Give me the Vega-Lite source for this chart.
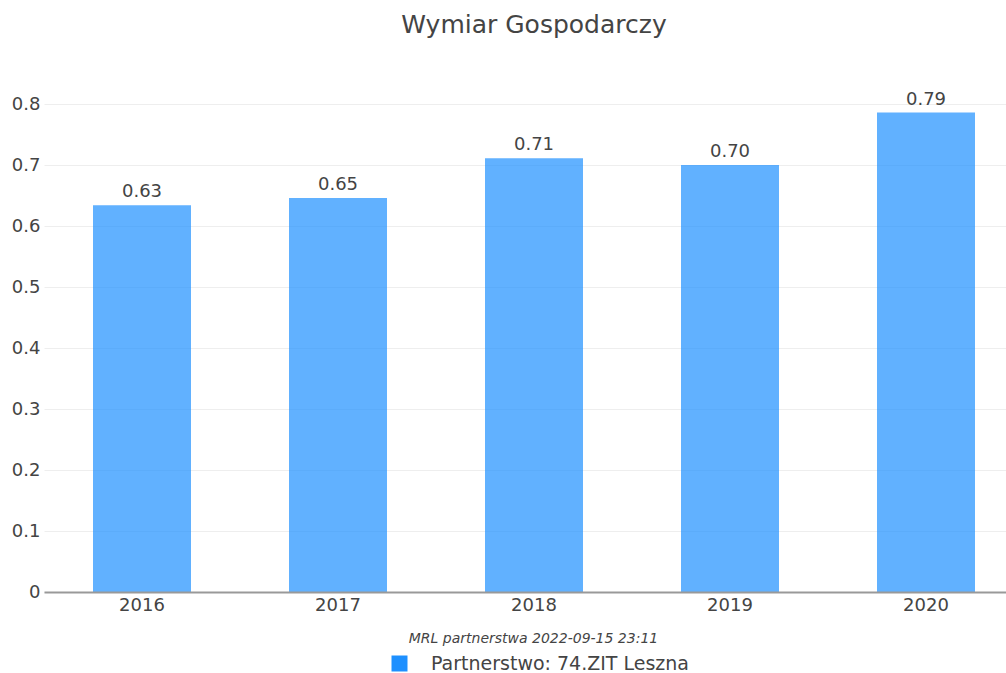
{
  "$schema": "https://vega.github.io/schema/vega-lite/v6.json",
  "autosize": {"type": "none"},
  "padding": {"left": 44, "top": 104, "right": 0, "bottom": 81},
  "width": 980,
  "height": 488,
  "title": {
    "text": "Wymiar Gospodarczy",
    "anchor": "middle",
    "offset": 53,
    "fontSize": 25,
    "font": "DejaVu Sans",
    "fontWeight": "normal",
    "color": "#444444",
    "frame": "group"
  },
  "data": {
    "values": [
      {"rok": "2016", "wartosc": 0.634, "seria": "Partnerstwo: 74.ZIT Leszna"},
      {"rok": "2017", "wartosc": 0.646, "seria": "Partnerstwo: 74.ZIT Leszna"},
      {"rok": "2018", "wartosc": 0.711, "seria": "Partnerstwo: 74.ZIT Leszna"},
      {"rok": "2019", "wartosc": 0.700, "seria": "Partnerstwo: 74.ZIT Leszna"},
      {"rok": "2020", "wartosc": 0.786, "seria": "Partnerstwo: 74.ZIT Leszna"}
    ]
  },
  "encoding": {
    "x": {
      "field": "rok",
      "type": "ordinal",
      "scale": {"paddingInner": 0.5, "paddingOuter": 0.25},
      "axis": {
        "title": "MRL partnerstwa 2022-09-15 23:11",
        "titleFont": "DejaVu Sans",
        "titleFontStyle": "italic",
        "titleFontWeight": "normal",
        "titleFontSize": 14,
        "titleColor": "#444444",
        "titleX": 489,
        "titleAlign": "center",
        "titlePadding": 17,
        "labelAngle": 0,
        "labelFont": "DejaVu Sans",
        "labelFontSize": 18,
        "labelColor": "#444444",
        "labelPadding": 4,
        "ticks": false,
        "domain": true,
        "domainColor": "#999999",
        "domainWidth": 2,
        "zindex": 1
      }
    },
    "y": {
      "field": "wartosc",
      "type": "quantitative",
      "scale": {"domain": [0, 0.8]},
      "axis": {
        "title": null,
        "values": [0, 0.1, 0.2, 0.3, 0.4, 0.5, 0.6, 0.7, 0.8],
        "labelExpr": "datum.value == 0 ? '0' : format(datum.value, '.1f')",
        "labelFont": "DejaVu Sans",
        "labelFontSize": 18,
        "labelColor": "#444444",
        "labelPadding": 4,
        "ticks": false,
        "domain": false,
        "grid": true,
        "gridColor": "#eeeeee",
        "gridWidth": 1
      }
    }
  },
  "layer": [
    {
      "mark": {"type": "bar", "opacity": 0.7},
      "encoding": {
        "color": {
          "field": "seria",
          "type": "nominal",
          "scale": {"range": ["#1E90FF"]},
          "legend": {
            "title": null,
            "orient": "none",
            "legendX": 346,
            "legendY": 550,
            "symbolType": "square",
            "symbolSize": 256,
            "symbolOpacity": 1,
            "symbolStrokeWidth": 0,
            "labelFont": "DejaVu Sans",
            "labelFontSize": 19,
            "labelColor": "#444444",
            "labelOffset": 22,
            "labelLimit": 500
          }
        }
      }
    },
    {
      "mark": {
        "type": "text",
        "baseline": "bottom",
        "dy": -4,
        "font": "DejaVu Sans",
        "fontSize": 18,
        "color": "#444444"
      },
      "encoding": {
        "text": {"field": "wartosc", "type": "quantitative", "format": ".2f"}
      }
    }
  ],
  "config": {
    "view": {"stroke": null}
  }
}
